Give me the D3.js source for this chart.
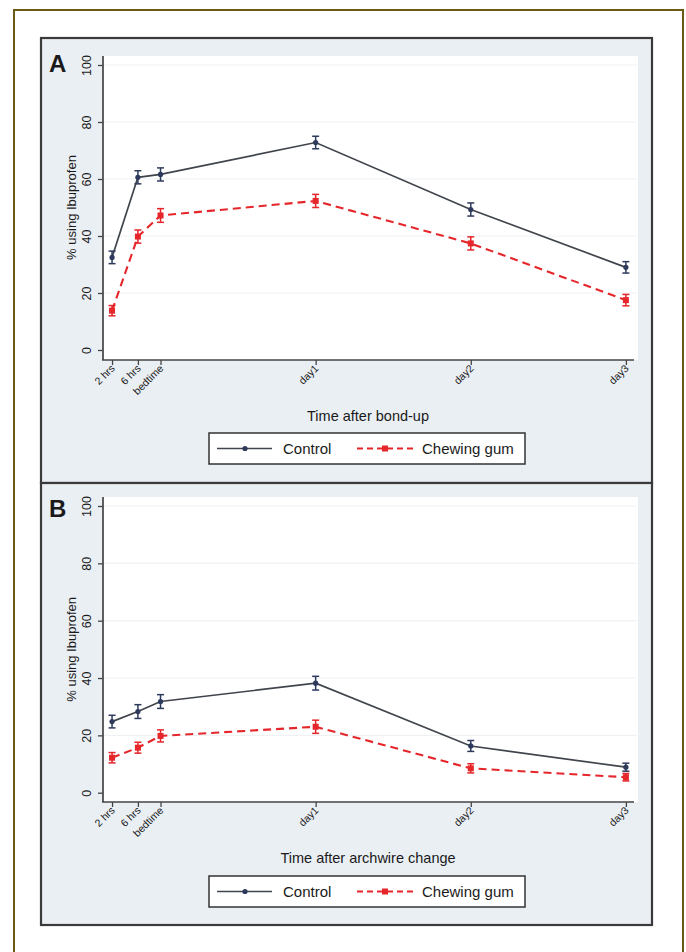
<!DOCTYPE html>
<html>
<head>
<meta charset="utf-8">
<script src="https://cdn.jsdelivr.net/npm/d3@7"></script>
<style>
  body { margin: 0; background: #fff; }
  text { font-family: "Liberation Sans", Arial, sans-serif; fill: #1a1a1a; }
</style>
</head>
<body>
<svg id="chart" width="686" height="952"></svg>
<script>
// time points on the x axis (hours after event)
var timeLabels = ["2 hrs", "6 hrs", "bedtime", "day1", "day2", "day3"];
var timeHours = [2, 6, 9.5, 33.5, 57.5, 81.5];
var yTicks = [0, 20, 40, 60, 80, 100];

// panel A: after bond-up
var bondControl = [32.5, 60.6, 61.6, 72.8, 49.3, 29.0];
var bondControlErr = [2.2, 2.3, 2.3, 2.2, 2.3, 2.0];
var bondGum = [13.8, 39.8, 47.2, 52.3, 37.4, 17.5];
var bondGumErr = [1.8, 2.3, 2.4, 2.3, 2.3, 2.0];

// panel B: after archwire change
var archControl = [24.8, 28.3, 31.8, 38.2, 16.3, 8.9];
var archControlErr = [2.2, 2.4, 2.4, 2.4, 1.9, 1.4];
var archGum = [12.2, 15.7, 19.8, 23.0, 8.5, 5.4];
var archGumErr = [1.8, 1.9, 2.1, 2.3, 1.6, 1.3];

var seriesNames = ["Control", "Chewing gum"];

var svg = d3.select("#chart");

// outer olive frame
svg.append("rect")
  .attr("x", 14).attr("y", 10)
  .attr("width", 669).attr("height", 960)
  .attr("fill", "#fff")
  .attr("stroke", "#6b5a16")
  .attr("stroke-width", 2);

var panels = [
  { letter: "A", top: 38, bottom: 483, y0: 350, y100: 65, axisY: 360, plotTop: 56,
    title: "Time after bond-up", titleY: 421, legendY: 433,
    control: bondControl, controlErr: bondControlErr, gum: bondGum, gumErr: bondGumErr },
  { letter: "B", top: 483, bottom: 925, y0: 792.7, y100: 506, axisY: 802, plotTop: 497,
    title: "Time after archwire change", titleY: 863, legendY: 876,
    control: archControl, controlErr: archControlErr, gum: archGum, gumErr: archGumErr }
];

var x = d3.scaleLinear().domain([0.6, 82.6]).range([103, 633]);

panels.forEach(function(p){
  var g = svg.append("g");

  // panel background and border
  g.append("rect")
    .attr("x", 41).attr("y", p.top)
    .attr("width", 611).attr("height", p.bottom - p.top)
    .attr("fill", "#eaeff4")
    .attr("stroke", "#3a3a3a")
    .attr("stroke-width", 2.2);

  // white plot region
  g.append("rect")
    .attr("x", 103).attr("y", p.plotTop)
    .attr("width", 535).attr("height", p.axisY - p.plotTop)
    .attr("fill", "#fff");

  var y = d3.scaleLinear().domain([0, 100]).range([p.y0, p.y100]);

  // faint gridlines
  g.selectAll(".grid")
    .data(yTicks.filter(function(d){ return d > 0; }))
    .enter().append("line")
    .attr("x1", 104).attr("x2", 637)
    .attr("y1", function(d){ return y(d); })
    .attr("y2", function(d){ return y(d); })
    .attr("stroke", "#f0f1f3")
    .attr("stroke-width", 1.2);

  // y axis
  var yAxis = g.append("g")
    .attr("transform", "translate(103,0)")
    .call(d3.axisLeft(y).tickValues(yTicks).tickSize(5).tickFormat(d3.format("d")));
  yAxis.select(".domain").attr("d", "M0," + p.plotTop + "V" + p.axisY).attr("stroke", "#444").attr("stroke-width", 1.7);
  yAxis.selectAll(".tick line").attr("stroke", "#444").attr("stroke-width", 1.3);
  yAxis.selectAll(".tick text")
    .attr("x", 0).attr("y", 0).attr("dy", 0)
    .attr("transform", "translate(-12,0) rotate(-90)")
    .attr("text-anchor", "middle")
    .style("font-size", "12.5px")
    .style("font-family", "'Liberation Sans', Arial, sans-serif")
    .attr("fill", "#1a1a1a");

  // x axis
  var xAxis = g.append("g")
    .attr("transform", "translate(0," + p.axisY + ")")
    .call(d3.axisBottom(x).tickValues(timeHours).tickSize(5)
      .tickFormat(function(d, i){ return timeLabels[i]; }));
  xAxis.select(".domain").attr("d", "M102,0H634").attr("stroke", "#444").attr("stroke-width", 1.7);
  xAxis.selectAll(".tick line").attr("stroke", "#444").attr("stroke-width", 1.3);
  xAxis.selectAll(".tick text")
    .attr("x", 0).attr("y", 0).attr("dy", 0)
    .attr("transform", "translate(3,9) rotate(-45)")
    .attr("text-anchor", "end")
    .style("font-size", "10.5px")
    .style("font-family", "'Liberation Sans', Arial, sans-serif")
    .attr("fill", "#1a1a1a");

  // panel letter
  g.append("text")
    .attr("x", 49).attr("y", p.top + 34)
    .style("font-size", "24px").style("font-weight", "bold")
    .attr("fill", "#111")
    .text(p.letter);

  // y axis title
  g.append("text")
    .attr("transform", "translate(76," + ((p.y0 + p.y100) / 2) + ") rotate(-90)")
    .attr("text-anchor", "middle")
    .style("font-size", "13px")
    .text("% using Ibuprofen");

  // x axis title
  g.append("text")
    .attr("x", 368).attr("y", p.titleY)
    .attr("text-anchor", "middle")
    .style("font-size", "14.5px")
    .text(p.title);

  var line = d3.line()
    .x(function(d, i){ return x(timeHours[i]); })
    .y(function(d){ return y(d); });

  function drawSeries(vals, errs, color, barColor, dash, width, square){
    g.append("path")
      .datum(vals)
      .attr("d", line)
      .attr("fill", "none")
      .attr("stroke", color)
      .attr("stroke-width", width)
      .attr("stroke-dasharray", dash);

    var eb = g.append("g").selectAll("g")
      .data(vals).enter().append("g");
    eb.append("line")
      .attr("x1", function(d, i){ return x(timeHours[i]); })
      .attr("x2", function(d, i){ return x(timeHours[i]); })
      .attr("y1", function(d, i){ return y(d - errs[i]); })
      .attr("y2", function(d, i){ return y(d + errs[i]); })
      .attr("stroke", barColor).attr("stroke-width", 1.5);
    [-1, 1].forEach(function(s){
      eb.append("line")
        .attr("x1", function(d, i){ return x(timeHours[i]) - 3.5; })
        .attr("x2", function(d, i){ return x(timeHours[i]) + 3.5; })
        .attr("y1", function(d, i){ return y(d + s * errs[i]); })
        .attr("y2", function(d, i){ return y(d + s * errs[i]); })
        .attr("stroke", barColor).attr("stroke-width", 1.5);
    });
    if (square) {
      eb.append("rect")
        .attr("x", function(d, i){ return x(timeHours[i]) - 3; })
        .attr("y", function(d){ return y(d) - 3; })
        .attr("width", 6).attr("height", 6)
        .attr("fill", color);
    } else {
      eb.append("circle")
        .attr("cx", function(d, i){ return x(timeHours[i]); })
        .attr("cy", function(d){ return y(d); })
        .attr("r", 2.6)
        .attr("fill", barColor);
    }
  }

  drawSeries(p.gum, p.gumErr, "#e5262b", "#e5262b", "8,5", 2.1, true);
  drawSeries(p.control, p.controlErr, "#40444c", "#2d3a5c", null, 1.7, false);

  // legend
  var lg = g.append("g").attr("transform", "translate(209," + p.legendY + ")");
  lg.append("rect")
    .attr("width", 316).attr("height", 31)
    .attr("fill", "#fff")
    .attr("stroke", "#333").attr("stroke-width", 1.5);
  lg.append("line")
    .attr("x1", 8).attr("x2", 63).attr("y1", 15.5).attr("y2", 15.5)
    .attr("stroke", "#40444c").attr("stroke-width", 1.7);
  lg.append("circle").attr("cx", 36).attr("cy", 15.5).attr("r", 2.6).attr("fill", "#2d3a5c");
  lg.append("text").attr("x", 74).attr("y", 21).style("font-size", "15px").text(seriesNames[0]);
  lg.append("line")
    .attr("x1", 148).attr("x2", 204).attr("y1", 15.5).attr("y2", 15.5)
    .attr("stroke", "#e5262b").attr("stroke-width", 2)
    .attr("stroke-dasharray", "6,4");
  lg.append("rect").attr("x", 173).attr("y", 12.5).attr("width", 6).attr("height", 6).attr("fill", "#e5262b");
  lg.append("text").attr("x", 213).attr("y", 21).style("font-size", "15px").text(seriesNames[1]);
});
</script>
</body>
</html>
